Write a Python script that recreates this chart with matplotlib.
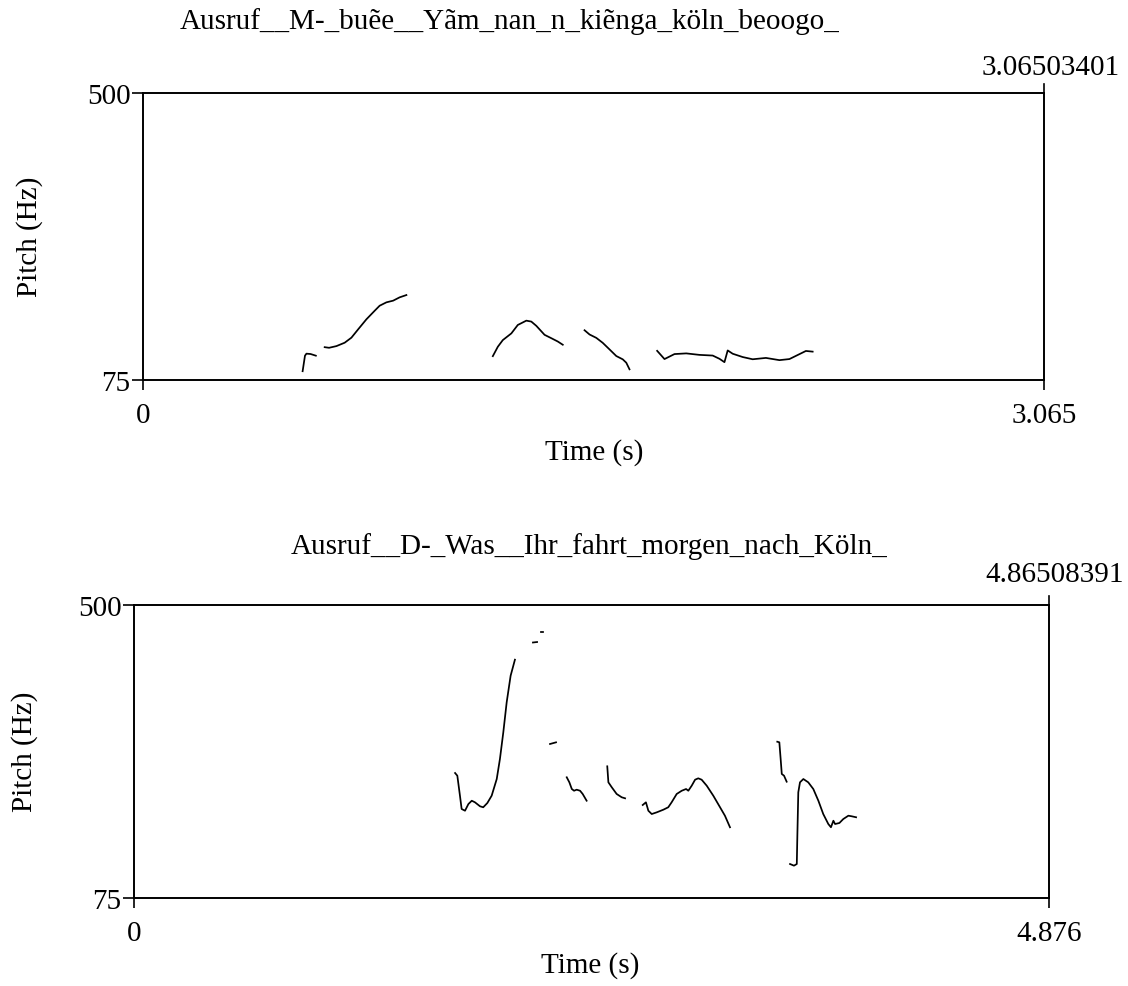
import matplotlib.pyplot as plt

plt.rcParams['font.family'] = ['Liberation Serif', 'DejaVu Serif']

# upper panel: pitch contour pieces (time in s, pitch in Hz)
top_title = "Ausruf__M-_buẽe__Yãm_nan_n_kiẽnga_köln_beoogo_"
top_tmax = 3.065
top_tmax_long = "3.06503401"
top_times = [
    [0.543, 0.551, 0.556, 0.570, 0.588],
    [0.618, 0.633, 0.658, 0.686, 0.709, 0.732, 0.760, 0.788, 0.805, 0.828, 0.851, 0.873, 0.896],
    [1.190, 1.207, 1.224, 1.253, 1.275, 1.304, 1.321, 1.338, 1.366, 1.389, 1.411, 1.428],
    [1.502, 1.519, 1.542, 1.564, 1.587, 1.610, 1.632, 1.644, 1.655],
    [1.749, 1.774, 1.808, 1.848, 1.893, 1.938, 1.961, 1.978, 1.989, 2.006, 2.040, 2.074,
     2.119, 2.165, 2.199, 2.227, 2.255, 2.278],
]
top_pitch = [
    [88, 111, 114, 113.5, 111],
    [123.6, 122.7, 125.2, 130.2, 137.7, 150.1, 164.9, 177.5, 185.0, 190.0, 192.5, 197.4, 200.8],
    [110.3, 124.2, 134.1, 144.0, 156.5, 162.9, 161.5, 155.2, 141.9, 136.9, 132.0, 127.2],
    [148.7, 142.4, 137.4, 130.0, 120.3, 110.5, 105.6, 100.6, 90.8],
    [118.2, 106.0, 113.4, 114.4, 112.2, 111.2, 106.4, 101.4, 118.8, 113.9, 109.0, 105.7,
     107.7, 104.4, 106.0, 112.0, 118.0, 117.0],
]

# lower panel
bot_title = "Ausruf__D-_Was__Ihr_fahrt_morgen_nach_Köln_"
bot_tmax = 4.876
bot_tmax_long = "4.86508391"
bot_times = [
    [1.711, 1.723, 1.737, 1.746, 1.764, 1.782, 1.800, 1.817, 1.844, 1.861, 1.883, 1.906,
     1.933, 1.950, 1.968, 1.986, 2.007, 2.030],
    [2.126, 2.148],
    [2.170, 2.177],
    [2.217, 2.249],
    [2.306, 2.320, 2.333, 2.345, 2.359, 2.377, 2.391, 2.412],
    [2.522, 2.528, 2.546, 2.572, 2.599, 2.617],
    [2.711, 2.728, 2.741, 2.759, 2.786, 2.821, 2.847, 2.865, 2.892, 2.919, 2.942, 2.954,
     2.972, 2.990, 3.007, 3.025, 3.052, 3.087, 3.123, 3.149, 3.176],
    [3.428, 3.439, 3.446, 3.452, 3.464, 3.478],
    [3.496, 3.517, 3.532, 3.535, 3.540, 3.549, 3.567, 3.593, 3.620, 3.647, 3.673, 3.700,
     3.714, 3.727, 3.736, 3.759, 3.780, 3.807, 3.825, 3.848],
]
bot_pitch = [
    [256.3, 252.4, 223.4, 204.1, 201.6, 211.3, 216.1, 213.8, 208.0, 206.6, 212.8, 223.4,
     247.6, 276.6, 315.3, 358.9, 397.4, 420.7],
    [445.6, 446.3],
    [460.4, 460.4],
    [298.4, 300.8],
    [250.1, 242.8, 233.1, 230.6, 232.1, 230.6, 225.9, 216.1],
    [266.0, 242.8, 235.6, 225.9, 221.1, 219.6],
    [209.9, 213.8, 201.6, 196.8, 199.3, 203.1, 206.6, 213.8, 225.9, 230.6, 233.1, 230.6,
     237.9, 246.6, 248.6, 246.6, 237.9, 223.4, 206.6, 194.4, 177.6],
    [301.7, 300.8, 276.6, 254.9, 252.4, 243.7],
    [124.3, 121.9, 124.3, 165.4, 228.3, 242.8, 247.6, 242.8, 233.1, 216.1, 196.8, 182.3,
     177.6, 187.1, 182.3, 183.8, 189.6, 194.4, 193.5, 192.1],
]

W, H = 1128, 987
fig = plt.figure(figsize=(W / 100, H / 100), dpi=100)

FS = 21


def panel(box, times, pitch, tmax, tmax_long, title, title_xy, ylab_xy, xlab_xy, long_xy):
    l, t, r, b = box
    ax = fig.add_axes([l / W, 1 - b / H, (r - l) / W, (b - t) / H])
    for tt, pp in zip(times, pitch):
        ax.plot(tt, pp, color='k', lw=1.25)
    ax.set_xlim(0, tmax)
    ax.set_ylim(75, 500)
    ax.set_xticks([0, tmax])
    ax.set_xticklabels(['0', f'{tmax:.3f}'], fontsize=FS)
    ax.set_yticks([75, 500])
    ax.set_yticklabels(['75', '500'], fontsize=FS)
    ax.tick_params(axis='y', direction='out', length=8, width=1.2, pad=1)
    ax.tick_params(axis='x', direction='out', length=7, width=1.2, pad=9)
    for s in ax.spines.values():
        s.set_linewidth(1.4)
    # small tick above the right end, like the original
    ax.plot([1, 1], [1, 1.03], transform=ax.transAxes, color='k', lw=1.2, clip_on=False)
    fig.text(title_xy[0] / W, 1 - title_xy[1] / H, title, fontsize=FS,
             ha='center', va='center')
    fig.text(long_xy[0] / W, 1 - long_xy[1] / H, tmax_long, fontsize=FS,
             ha='right', va='center')
    fig.text(ylab_xy[0] / W, 1 - ylab_xy[1] / H, 'Pitch (Hz)', fontsize=FS,
             rotation=90, ha='center', va='center')
    fig.text(xlab_xy[0] / W, 1 - xlab_xy[1] / H, 'Time (s)', fontsize=FS,
             ha='center', va='center')
    return ax


panel((143, 94, 1044, 381), top_times, top_pitch, top_tmax, top_tmax_long, top_title,
      (510, 22), (30, 237), (594, 453), (1120, 68))
panel((134, 606, 1049, 899), bot_times, bot_pitch, bot_tmax, bot_tmax_long, bot_title,
      (589, 547), (25, 752), (590, 966), (1124, 575))

fig.savefig('out.png', dpi=100)
